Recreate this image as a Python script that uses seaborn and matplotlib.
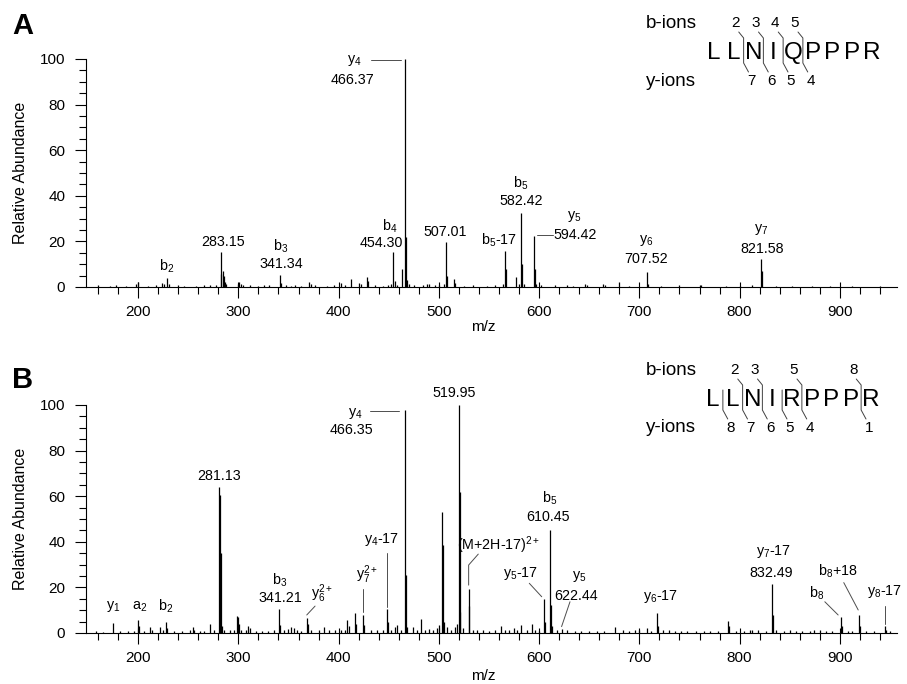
import numpy as np
import pandas as pd
import seaborn as sns
import matplotlib.pyplot as plt
from matplotlib.lines import Line2D
from matplotlib.ticker import MultipleLocator, NullLocator

# ---------------- panel A spectrum: LLNIQPPPR ----------------
mz_a = [160, 172, 178, 188, 198, 200, 210, 218, 224, 226, 229, 231, 240, 246, 258,
        266, 272, 278, 282.2, 283.15, 284.2, 285.2, 286.2, 288, 300, 301, 303, 305,
        312, 320, 326, 331, 341.34, 343, 348, 352, 356, 362, 370, 372, 376, 388, 395,
        402, 406, 412, 420, 422, 428, 429, 436, 444, 449, 452, 454.30, 456, 458, 463,
        466.37, 467.4, 468.4, 470, 475, 484, 488, 490, 496, 500, 505, 507.01, 508,
        515, 516, 525, 534, 548, 556, 564, 565.5, 566.5, 577, 580, 582.42, 583.4,
        585, 594.42, 595.4, 597, 602, 616, 628, 634, 646, 648, 664, 666, 680, 690,
        707.52, 708.5, 722, 740, 760, 761, 786, 800, 812, 821.58, 822.6, 836, 852,
        872, 890, 912, 940]
int_a = [0.8, 0.6, 0.7, 0.5, 1.2, 2.2, 0.6, 0.8, 1.8, 1.5, 3.8, 1.2, 0.8, 0.6, 0.5,
         0.7, 0.8, 0.9, 5.7, 15.5, 6.9, 5.0, 2.0, 1.2, 1.5, 2.2, 1.5, 1.0,
         0.8, 0.6, 1.0, 0.7, 5.1, 1.8, 0.7, 0.6, 0.8, 0.6, 2.2, 1.2, 0.8, 0.6, 0.7,
         1.6, 1.0, 3.7, 1.8, 1.2, 4.2, 2.5, 0.8, 0.6, 0.7, 1.2, 15.3, 2.5, 1.0, 7.9,
         100, 22, 3.0, 1.2, 0.8, 1.0, 1.5, 1.2, 0.8, 0.7, 1.2, 19.7, 5.0,
         3.5, 1.8, 0.6, 0.7, 0.6, 0.7, 1.5, 15.8, 8.0, 4.2, 1.2, 32.4, 10,
         1.2, 22.4, 8.0, 1.2, 0.7, 0.8, 0.9, 0.6, 1.2, 1.0, 1.5, 0.9, 2.0, 0.6,
         6.6, 1.5, 0.6, 0.7, 1.0, 0.8, 0.6, 0.6, 0.9, 12.3, 6.9, 0.6, 0.5,
         0.6, 0.5, 0.4, 0.5]

# ---------------- panel B spectrum: LLNIRPPPR ----------------
mz_b = [158, 165, 175.4, 182, 190, 196, 199.5, 201, 206, 212, 214, 222, 225, 228, 229,
        236, 244, 252, 255, 256, 262, 266, 271.8, 276, 280.8, 281.8, 282.8, 284, 286,
        292, 296, 299, 300, 301, 303, 308, 310, 312, 318, 324, 330, 336, 340.6, 342,
        346, 350, 352, 355, 358, 362, 368.2, 369, 372, 380, 385, 390, 396, 402, 406,
        408, 410, 416.3, 417.3, 424.6, 425.6, 432, 438, 444, 448.6, 449.6, 452, 456,
        458, 462, 466.35, 467.4, 468, 474, 478, 482, 486, 490, 494, 498, 500, 503.5,
        504.5, 505.5, 508, 512, 516, 518.5, 519.95, 520.6, 521.3, 524, 529.7, 530.5,
        534, 538, 544, 550, 556, 562, 566, 570, 575, 578, 582, 588, 593, 596, 600,
        604.8, 605.8, 610.45, 611.4, 612.4, 618, 622.44, 628, 636, 642, 650, 658, 665,
        676, 684, 690, 696, 700, 708, 712, 717.7, 718.7, 724, 730, 736, 742, 748, 756,
        764, 770, 778, 788.9, 789.9, 796, 804, 810, 812, 818, 826, 832.49, 833.4, 836,
        844, 850, 856, 862, 870, 874, 880, 886, 892, 900.9, 902, 908, 912, 919, 920,
        926, 934, 944.8, 946, 950]
int_b = [0.8, 0.6, 4.2, 1.0, 0.8, 0.9, 5.7, 3.0, 0.8, 2.5, 1.2, 2.8, 1.5, 4.7, 2.2,
         0.8, 0.9, 1.2, 2.5, 1.5, 0.8, 0.9, 4.0, 1.2, 64, 60.5, 35, 3.0, 1.5,
         1.2, 1.5, 7.5, 6.8, 4.0, 1.5, 1.2, 3.0, 2.0, 0.9, 1.0, 0.8, 1.2, 10.5, 3.5,
         1.2, 1.8, 2.5, 2.0, 1.2, 1.0, 6.4, 4.0, 1.5, 1.2, 2.5, 1.2, 1.5, 1.2, 1.5,
         5.5, 3.0, 8.9, 4.0, 8.0, 3.5, 1.5, 1.2, 1.5, 10.5, 5.0, 1.5, 2.5,
         3.5, 1.2, 98, 25.4, 2.5, 2.5, 1.5, 6.0, 1.5, 1.8, 1.5, 2.0, 3.5, 53.2,
         38.6, 5.0, 2.5, 1.5, 2.5, 4.0, 100, 62, 9.0, 2.0, 19.3, 12,
         1.5, 1.2, 1.2, 1.0, 1.2, 3.0, 1.5, 1.2, 2.0, 1.5, 3.5, 1.5, 4.0, 1.2, 1.0,
         14.8, 5.0, 45.2, 12.3, 3.0, 1.2, 1.8, 1.2, 1.0, 0.8, 0.8, 0.8, 1.0,
         2.5, 1.2, 1.0, 1.5, 1.2, 2.0, 1.0, 8.6, 3.0, 1.2, 1.2, 1.0, 0.9, 0.8, 0.8,
         1.0, 0.8, 1.0, 5.4, 3.0, 0.9, 1.0, 1.5, 1.5, 1.2, 1.0, 21.5, 8.0, 1.5,
         1.0, 1.5, 1.0, 0.9, 1.0, 1.2, 1.5, 1.0, 0.8, 6.9, 3.0, 1.0, 0.8, 7.9, 3.0,
         0.8, 0.8, 3.2, 1.5, 0.8]

# peptide sequences and observed fragment numbers
seq_a = "LLNIQPPPR"
b_ions_a = [2, 3, 4, 5]
y_ions_a = [7, 6, 5, 4]
seq_b = "LLNIRPPPR"
b_ions_b = [2, 3, 5, 8]
y_ions_b = [8, 7, 6, 5, 4, 1]

# peak annotations: (text, m/z position, height position)
labels_a = [("y$_4$", 416, 99.3), ("466.37", 414, 90.8),
            ("b$_2$", 228.6, 8.9), ("283.15", 284.4, 19.6),
            ("b$_3$", 342.6, 17.7), ("341.34", 342.6, 10.1),
            ("b$_4$", 451.3, 26.8), ("454.30", 443, 19.2),
            ("507.01", 506, 24.0), ("b$_5$", 581.9, 45.5), ("582.42", 581.9, 37.7),
            ("b$_5$-17", 560.3, 20.3), ("y$_5$", 635, 30.8), ("594.42", 635.7, 22.8),
            ("y$_6$", 707.1, 20.6), ("707.52", 707.1, 12.1),
            ("y$_7$", 821.9, 25.3), ("821.58", 822.5, 16.7)]
leaders_a = [((432.3, 462.2), (99.4, 99.4)), ((597.5, 614), (22.8, 22.8))]

labels_b = [("y$_1$", 175.4, 11.5), ("a$_2$", 201.3, 11.5), ("b$_2$", 227.6, 11.5),
            ("281.13", 281.1, 68.9), ("y$_4$", 416.3, 96.3), ("466.35", 413, 88.9),
            ("b$_3$", 341.6, 22.9), ("341.21", 341.6, 15.2),
            ("y$_6^{2+}$", 383.2, 17.4), ("y$_7^{2+}$", 428, 25.4),
            ("y$_4$-17", 443, 40.8), ("519.95", 515, 105.1),
            ("(M+2H-17)$^{2+}$", 559.3, 38.6), ("b$_5$", 610.1, 59.1),
            ("610.45", 608.5, 51.0), ("y$_5$-17", 581.9, 26.2), ("y$_5$", 640, 24.7),
            ("622.44", 636.7, 16.2), ("y$_6$-17", 721.5, 15.9),
            ("y$_7$-17", 833.5, 35.7), ("832.49", 831.9, 26.5),
            ("b$_8$+18", 898.3, 26.9), ("b$_8$", 876.7, 17.4), ("y$_8$-17", 944.1, 18.1)]
leaders_b = [((431.3, 460.5), (97.5, 97.5)), ((368.2, 376.5), (7.9, 11.8)),
             ((424.6, 424.6), (9.4, 19.2)), ((448.6, 448.6), (11.5, 35.2)),
             ((529.7, 529.7, 539.3), (21, 29.8, 34.6)), ((590.2, 602.6), (21.8, 15.9)),
             ((630.8, 622.4), (13.7, 2.8)), ((903.9, 918.3), (22.1, 10.1)),
             ((885, 898.3), (13.7, 7.9)), ((944.8, 944.8), (12, 4))]

sns.set_theme(style='ticks')
plt.rcParams['font.family'] = ['Liberation Sans', 'DejaVu Sans']
plt.rcParams['mathtext.fontset'] = 'custom'
plt.rcParams['mathtext.rm'] = 'Liberation Sans'
plt.rcParams['mathtext.it'] = 'Liberation Sans:italic'
plt.rcParams['mathtext.bf'] = 'Liberation Sans:bold'
for key in ('text.color', 'axes.labelcolor', 'xtick.color', 'ytick.color', 'axes.edgecolor'):
    plt.rcParams[key] = 'black'

W, H = 907, 684
fig = plt.figure(figsize=(W / 100, H / 100), dpi=100)


def ftext(x, y, s, size, **kw):
    # text placed in figure pixels (origin top-left)
    fig.text(x / W, 1 - y / H, s, fontsize=size, ha='center', va='center', **kw)


def fline(xs, ys):
    fig.add_artist(Line2D([x / W for x in xs], [1 - y / H for y in ys],
                          transform=fig.transFigure, color='0.25', lw=0.7))


def draw_spectrum(ax, mz, inten, labels, leaders, xlab_y):
    df = pd.DataFrame({'mz': mz, 'intensity': inten})
    ax.vlines(df['mz'], 0, df['intensity'], color='black', linewidth=0.9)
    ax.set_xlim(148, 957)
    ax.set_ylim(0, 100)
    ax.xaxis.set_major_locator(MultipleLocator(100))
    ax.xaxis.set_minor_locator(MultipleLocator(20))
    ax.yaxis.set_major_locator(MultipleLocator(20))
    ax.yaxis.set_minor_locator(MultipleLocator(5))
    ax.tick_params(which='major', length=8, width=0.8, labelsize=11)
    ax.tick_params(which='minor', length=4.8, width=0.8)
    ax.tick_params(axis='x', which='major', pad=5)
    ax.tick_params(axis='y', which='major', pad=7)
    sns.despine(ax=ax)
    for sp in ('left', 'bottom'):
        ax.spines[sp].set_linewidth(0.8)
    # short inward stubs on the major m/z ticks
    sec = ax.secondary_xaxis('bottom')
    sec.xaxis.set_major_locator(MultipleLocator(100))
    sec.xaxis.set_minor_locator(NullLocator())
    sec.tick_params(direction='in', length=3.5, width=0.8, labelbottom=False)
    sec.spines['bottom'].set_visible(False)
    ax.set_xlabel('m/z', fontsize=11)
    ax.set_ylabel('Relative Abundance', fontsize=11.5)
    ax.xaxis.set_label_coords(0.49, xlab_y)
    ax.yaxis.set_label_coords(-0.072, 0.5)
    for s, x, y in labels:
        ax.text(x, y, s, fontsize=10.3, ha='center', va='center')
    for xs, ys in leaders:
        ax.plot(xs, ys, color='0.3', lw=0.7)


def draw_sequence(seq, b_ions, y_ions, x0, y_mid):
    step = 19.75
    xs = [x0 + i * step for i in range(len(seq))]
    for x, aa in zip(xs, seq):
        ftext(x, y_mid, aa, 17.5)
    y_top = y_mid - 30
    y_bot = y_mid + 28
    ftext(671, y_top, 'b-ions', 13.5)
    ftext(671, y_bot, 'y-ions', 13.5)
    n = len(seq)
    cuts = sorted(set(b_ions) | {n - k for k in y_ions})
    for c in cuts:
        xl, xr = xs[c - 1], xs[c]
        g = (xl + xr) / 2
        px, py = [], []
        if c in b_ions:
            ftext(xl + 2, y_top, str(c), 11)
            px += [xl + 5, g]
            py += [y_top + 9, y_mid - 15]
        else:
            px += [g]
            py += [y_mid - 10]
        if (n - c) in y_ions:
            ftext(xr - 2, y_bot, str(n - c), 11)
            px += [g, xr - 5]
            py += [y_mid + 10, y_bot - 9]
        else:
            px += [g]
            py += [y_mid + 12]
        fline(px, py)


ax_a = fig.add_axes([86 / W, 1 - 287 / H, 811 / W, 228 / H])
ax_b = fig.add_axes([86 / W, 1 - 633 / H, 811 / W, 228 / H])

draw_spectrum(ax_a, mz_a, int_a, labels_a, leaders_a, -0.145)
draw_spectrum(ax_b, mz_b, int_b, labels_b, leaders_b, -0.158)

draw_sequence(seq_a, b_ions_a, y_ions_a, 714, 53)
draw_sequence(seq_b, b_ions_b, y_ions_b, 713, 400)

ftext(22.5, 26, 'A', 21, fontweight='bold')
ftext(22.5, 380, 'B', 21, fontweight='bold')

fig.savefig('out.png', dpi=100, facecolor='white')
